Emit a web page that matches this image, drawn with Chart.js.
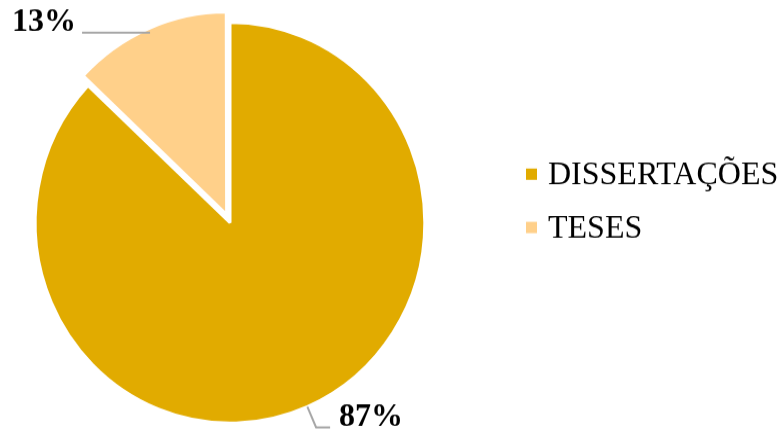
<!DOCTYPE html>
<html>
<head>
<meta charset="utf-8">
<script src="https://cdn.jsdelivr.net/npm/chart.js@4.4.0/dist/chart.umd.min.js"></script>
<style>
  html, body { margin: 0; padding: 0; background: #fff; overflow: hidden; }
  #grafico { display: block; }
</style>
</head>
<body>
<canvas id="grafico" width="783" height="418" style="width:783px;height:430px"></canvas>
<script>
var categorias = ["DISSERTAÇÕES", "TESES"];
var valores = [87, 13];
var cores = ['#E1AB00', '#FFD08A'];
var destaque = [0, 34];

var fonte = '"Liberation Serif", "Times New Roman", serif';

// porcentagens com linha de chamada (estilo Excel)
var rotulos = {
  id: 'rotulos',
  afterDatasetsDraw: function(chart) {
    var ctx = chart.ctx;
    var meta = chart.getDatasetMeta(0);
    var total = valores.reduce(function(a, b) { return a + b; }, 0);
    var chamada = [{ext: 22, lado: 14, gap: 9}, {ext: -2, lado: 68, gap: 6}];
    ctx.save();
    ctx.strokeStyle = '#A6A6A6';
    ctx.lineWidth = 2;
    ctx.fillStyle = '#000';
    ctx.font = 'bold 32px ' + fonte;
    ctx.textBaseline = 'alphabetic';
    meta.data.forEach(function(arc, i) {
      var a = (arc.startAngle + arc.endAngle) / 2;
      var r = arc.outerRadius + (arc.options.offset || 0) / 4;
      var c = chamada[i];
      var x0 = arc.x + Math.cos(a) * r, y0 = arc.y + Math.sin(a) * r;
      var x1 = x0 + Math.cos(a) * c.ext, y1 = y0 + Math.sin(a) * c.ext;
      var dir = Math.cos(a) >= 0 ? 1 : -1;
      var x2 = x1 + dir * c.lado;
      ctx.beginPath();
      if (c.ext > 0) {
        ctx.moveTo(x0, y0);
        ctx.lineTo(x1, y1);
      } else {
        ctx.moveTo(x1, y1);
      }
      ctx.lineTo(x2, y1);
      ctx.stroke();
      ctx.textAlign = dir > 0 ? 'left' : 'right';
      ctx.fillText(Math.round(valores[i] / total * 100) + '%', x2 + dir * c.gap, y1 - 1.5);
    });
    ctx.restore();
  }
};

// legenda à direita
var legenda = {
  id: 'legenda',
  afterDraw: function(chart) {
    var ctx = chart.ctx;
    var ds = chart.data.datasets[0];
    ctx.save();
    ctx.font = '32px ' + fonte;
    ctx.textAlign = 'left';
    ctx.textBaseline = 'alphabetic';
    chart.data.labels.forEach(function(txt, i) {
      var y = 169.3 + i * 51.8;
      ctx.fillStyle = ds.backgroundColor[i];
      ctx.fillRect(526, y - 5.5, 11, 11);
      ctx.fillStyle = '#000';
      ctx.fillText(txt, 548, y + 9.8);
    });
    ctx.restore();
  }
};

var ctx = document.getElementById("grafico");
var grafico = new Chart(ctx, {
  type: 'pie',
  data: {
    labels: categorias,
    datasets: [
      {
        data: valores,
        backgroundColor: cores,
        borderColor: '#fff',
        borderWidth: 3,
        offset: destaque
      }
    ]
  },
  options: {
    responsive: false,
    devicePixelRatio: 1,
    animation: false,
    radius: 194.8,
    layout: { padding: { left: 0, right: 323, top: 15, bottom: 0 } },
    plugins: {
      legend: { display: false },
      tooltip: { enabled: false }
    }
  },
  plugins: [rotulos, legenda]
});
</script>
</body>
</html>
